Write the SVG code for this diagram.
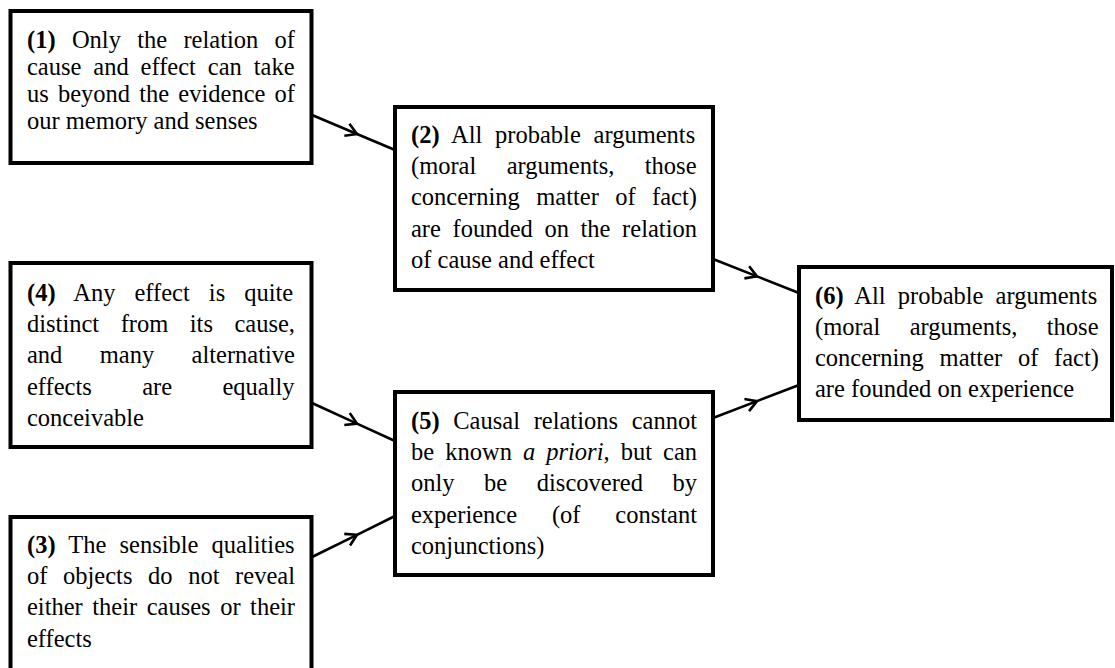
<svg xmlns="http://www.w3.org/2000/svg" width="1115" height="668" viewBox="0 0 1115 668">
<style>
.box{fill:#fff;stroke:#000;stroke-width:4}
.t{font-family:"Liberation Serif","Times New Roman",serif;font-size:24.5px;fill:#000}
.b{font-weight:bold}
.i{font-style:italic}
.conn{fill:none;stroke:#000;stroke-width:2.6;marker-mid:url(#chev)}
</style>
<defs>
<marker id="chev" markerUnits="userSpaceOnUse" viewBox="-14 -9 16 18" markerWidth="16" markerHeight="18" refX="0" refY="0" orient="auto" overflow="visible">
<path d="M-11,-6.5 L0,0 L-11,6.5" fill="none" stroke="#000" stroke-width="2.6" stroke-linejoin="miter"/>
</marker>
</defs>
<rect width="1115" height="668" fill="#fff"/>
<g id="connectors">
<path class="conn" d="M312,115 L357,134 L395,150"/>
<path class="conn" d="M713,259 L757,276.4 L799,293"/>
<path class="conn" d="M312,403 L357,423.6 L395,441"/>
<path class="conn" d="M312,557 L357,534.8 L395,516"/>
<path class="conn" d="M713,418 L757,401.1 L799,385"/>
</g>
<g id="node1">
<rect class="box" x="10.5" y="11" width="301" height="152"/>
<text class="t" x="27" y="48" word-spacing="10.19"><tspan class="b">(1)</tspan> Only the relation of</text>
<text class="t" x="27" y="75.1" word-spacing="5.78">cause and effect can take</text>
<text class="t" x="27" y="102.2" word-spacing="3.04">us beyond the evidence of</text>
<text class="t" x="27" y="129.3">our memory and senses</text>
</g>
<g id="node2">
<rect class="box" x="395" y="107" width="318" height="183"/>
<text class="t" x="411" y="143" word-spacing="6.65"><tspan class="b">(2)</tspan> All probable arguments</text>
<text class="t" x="411" y="174.2" word-spacing="24.26">(moral arguments, those</text>
<text class="t" x="411" y="205.4" word-spacing="10.29">concerning matter of fact)</text>
<text class="t" x="411" y="236.6" word-spacing="5.5">are founded on the relation</text>
<text class="t" x="411" y="267.8">of cause and effect</text>
</g>
<g id="node4">
<rect class="box" x="10.5" y="263" width="301" height="184"/>
<text class="t" x="27" y="301" word-spacing="12.91"><tspan class="b">(4)</tspan> Any effect is quite</text>
<text class="t" x="27" y="332.2" word-spacing="15.38">distinct from its cause,</text>
<text class="t" x="27" y="363.4" word-spacing="31.26">and many alternative</text>
<text class="t" x="27" y="394.6" word-spacing="44.21">effects are equally</text>
<text class="t" x="27" y="425.8">conceivable</text>
</g>
<g id="node5">
<rect class="box" x="395" y="392" width="318" height="183"/>
<text class="t" x="411" y="429" word-spacing="7.56"><tspan class="b">(5)</tspan> Causal relations cannot</text>
<text class="t" x="411" y="460.2" word-spacing="4.94">be known <tspan class="i">a priori</tspan>, but can</text>
<text class="t" x="411" y="491.4" word-spacing="23.43">only be discovered by</text>
<text class="t" x="411" y="522.6" word-spacing="28.71">experience (of constant</text>
<text class="t" x="411" y="553.8">conjunctions)</text>
</g>
<g id="node3">
<rect class="box" x="10.5" y="517" width="301" height="160"/>
<text class="t" x="27" y="553" word-spacing="7"><tspan class="b">(3)</tspan> The sensible qualities</text>
<text class="t" x="27" y="584.2" word-spacing="9.5">of objects do not reveal</text>
<text class="t" x="27" y="615.4" word-spacing="3.39">either their causes or their</text>
<text class="t" x="27" y="646.6">effects</text>
</g>
<g id="node6">
<rect class="box" x="799" y="267" width="313" height="153"/>
<text class="t" x="815" y="303.5" word-spacing="5.98"><tspan class="b">(6)</tspan> All probable arguments</text>
<text class="t" x="815" y="334.7" word-spacing="23.26">(moral arguments, those</text>
<text class="t" x="815" y="365.9" word-spacing="9.63">concerning matter of fact)</text>
<text class="t" x="815" y="397.1">are founded on experience</text>
</g>
</svg>
